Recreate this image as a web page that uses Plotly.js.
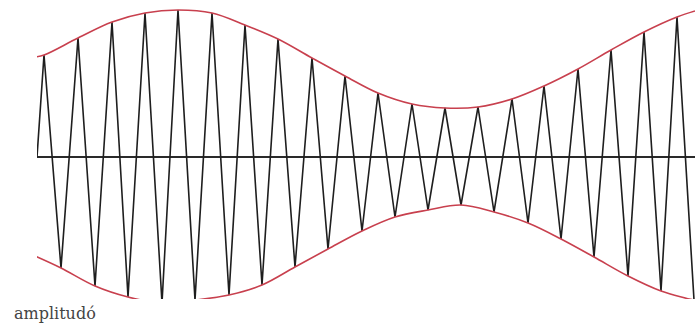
<!DOCTYPE html>
<html>
<head>
<meta charset="utf-8">
<script src="https://cdn.plot.ly/plotly-3.0.1.min.js"></script>
<style>html,body{margin:0;padding:0;background:#fff;}#chart{width:695px;height:332px;}</style>
</head>
<body>
<div id="chart"></div>
<script>
// Wave start (zero crossing at the left edge)
const startX = 37;
const startY = 0;
// Upper extremes of the carrier (positions and amplitudes)
const peakX = [44, 78, 112, 145, 178, 212, 245, 278, 312, 345, 378, 412, 445, 478, 512, 544, 578, 611, 644, 677];
const peakY = [102, 119, 135, 144, 147, 144, 132, 118, 99, 81, 64, 53, 49, 50, 58, 71, 88, 107, 125, 140];
// Lower extremes of the carrier
const troughX = [61, 95, 128, 162, 195, 229, 262, 295, 328, 362, 395, 428, 461, 494, 528, 561, 594, 628, 661, 694];
const troughY = [-111, -129, -140, -146, -143, -138, -128, -110, -92, -74, -60, -53, -48, -55, -66, -82, -100, -119, -134, -143];
// Envelope edge values (left and right ends)
const envLeftX = 35, envRightX = 695;
const envTopLeft = 100, envTopRight = 146;
const envBotLeft = -99, envBotRight = -143;
const label = "amplitudó";

// Build the zigzag by alternating peaks and troughs
const waveX = [startX], waveY = [startY];
for (let i = 0; i < peakX.length; i++) {
  waveX.push(peakX[i]); waveY.push(peakY[i]);
  if (i < troughX.length) { waveX.push(troughX[i]); waveY.push(troughY[i]); }
}
const upX = [envLeftX].concat(peakX, [envRightX]);
const upY = [envTopLeft].concat(peakY, [envTopRight]);
const loX = [envLeftX].concat(troughX, [envRightX]);
const loY = [envBotLeft].concat(troughY, [envBotRight]);

const red = '#c8404e';
const data = [
  {x: waveX, y: waveY, mode: 'lines', line: {color: '#1e1e1e', width: 1.6}, hoverinfo: 'skip'},
  {x: upX, y: upY, mode: 'lines', line: {color: red, width: 1.6, shape: 'spline', smoothing: 1}, hoverinfo: 'skip'},
  {x: loX, y: loY, mode: 'lines', line: {color: red, width: 1.6, shape: 'spline', smoothing: 1}, hoverinfo: 'skip'}
];
const layout = {
  width: 695, height: 332,
  margin: {l: 37, r: 0, t: 0, b: 33, pad: 0},
  paper_bgcolor: '#fff', plot_bgcolor: '#fff',
  showlegend: false,
  xaxis: {range: [37, 695], visible: false, showgrid: false, zeroline: false, fixedrange: true},
  yaxis: {range: [-142, 157], showgrid: false, showticklabels: false, ticks: '', showline: false,
          zeroline: true, zerolinecolor: '#2a2a2a', zerolinewidth: 2, fixedrange: true},
  annotations: [{
    text: label, xref: 'paper', yref: 'paper', x: -0.038, y: -0.05,
    xanchor: 'left', yanchor: 'middle', showarrow: false,
    font: {family: 'DejaVu Serif', size: 16, color: '#444'}
  }]
};
Plotly.newPlot('chart', data, layout, {displayModeBar: false, staticPlot: true});
</script>
</body>
</html>
